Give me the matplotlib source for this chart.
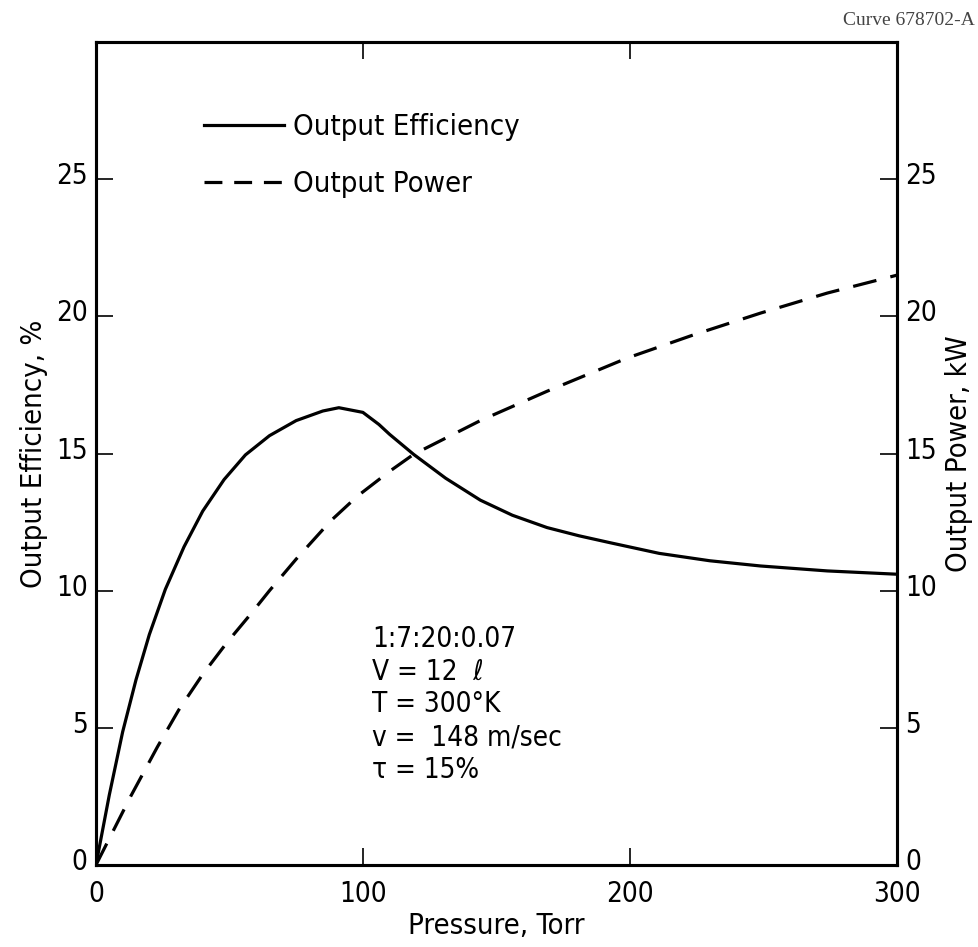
import matplotlib
matplotlib.use("Agg")
import matplotlib.pyplot as plt
import matplotlib.transforms as mtransforms
from matplotlib.lines import Line2D

plt.rcParams['font.family'] = ['DejaVu Sans']
plt.rcParams['font.stretch'] = 'condensed'

# Data
pressure_eff = [0, 5, 10, 15, 20, 26, 33, 40, 48, 56, 65, 75, 85, 91, 100, 106, 110,
                119, 131, 144, 156, 169, 181, 193, 211, 230, 249, 274, 300]
efficiency = [0, 2.55, 4.85, 6.75, 8.4, 10.05, 11.6, 12.9, 14.05, 14.95, 15.65, 16.2, 16.55, 16.67, 16.5, 16.06, 15.7,
              14.97, 14.1, 13.3, 12.75, 12.3, 12.0, 11.74, 11.36, 11.09, 10.9, 10.72, 10.6]

pressure_pow = [0, 13, 23, 31, 40, 49, 58, 65, 75, 88, 98, 110, 119, 144, 169,
                199, 224, 249, 274, 300]
power = [0, 2.5, 4.3, 5.65, 6.95, 8.1, 9.15, 10.0, 11.15, 12.55, 13.45, 14.35, 14.97, 16.2, 17.27,
         18.48, 19.33, 20.12, 20.85, 21.5]

x_ticks = [0, 100, 200, 300]
y_ticks = [0, 5, 10, 15, 20, 25]

conditions = ["1:7:20:0.07", "V = 12  \u2113", "T = 300\u00b0K", "v =  148 m/sec", "\u03c4 = 15%"]

fig = plt.figure(figsize=(9.79, 9.47), dpi=100)
ax = fig.add_axes([0.098, 0.0866, 0.818, 0.869])
ax2 = ax.twinx()

lw = 2.3
ax.plot(pressure_eff, efficiency, color='black', lw=lw, solid_capstyle='round',
        solid_joinstyle='round')
ax2.plot(pressure_pow, power, color='black', lw=lw, linestyle=(0, (7.5, 4.5)))

ax.set_xlim(0, 300)
ax.set_ylim(0, 30)
ax2.set_ylim(0, 30)

ax.set_xticks(x_ticks)
ax.set_yticks(y_ticks)
ax2.set_yticks(y_ticks)

fs = 20
ax.tick_params(axis='x', direction='in', length=12, width=1.2, labelsize=fs,
               top=True, pad=11)
ax.tick_params(axis='y', direction='in', length=12, width=1.2, labelsize=fs,
               right=False, pad=6)
ax2.tick_params(axis='y', direction='in', length=12, width=1.2, labelsize=fs, pad=6)
for a in (ax, ax2):
    for s in a.spines.values():
        s.set_linewidth(2.2)

# y tick labels sit slightly above their ticks in the original
up = mtransforms.ScaledTranslation(0, 6 / 100, fig.dpi_scale_trans)
for lab in ax.get_yticklabels() + ax2.get_yticklabels():
    lab.set_transform(lab.get_transform() + up)

ax.set_xlabel('Pressure, Torr', fontsize=fs + 1, labelpad=3)
ax.set_ylabel('Output Efficiency, %', fontsize=fs + 1, labelpad=6)
ax2.set_ylabel('Output Power, kW', fontsize=fs + 1, labelpad=6)

h1 = Line2D([], [], color='black', lw=lw)
h2 = Line2D([], [], color='black', lw=lw, linestyle=(0, (5.6, 3.7)))
ax.legend(handles=[h1, h2], labels=['Output Efficiency', 'Output Power'],
          loc='upper left', bbox_to_anchor=(0.12, 0.928),
          frameon=False, fontsize=fs + 1, handlelength=2.75, handletextpad=0.3,
          labelspacing=1.0, borderaxespad=0)

ax.text(0.345, 0.292, "\n".join(conditions), transform=ax.transAxes, fontsize=fs,
        va='top', ha='left', linespacing=1.22)

fig.text(0.996, 0.978, "Curve 678702-A", ha='right', va='center', fontsize=14,
         family=['Liberation Serif', 'DejaVu Serif'], color='#444444')

fig.savefig('out.png', dpi=100)
